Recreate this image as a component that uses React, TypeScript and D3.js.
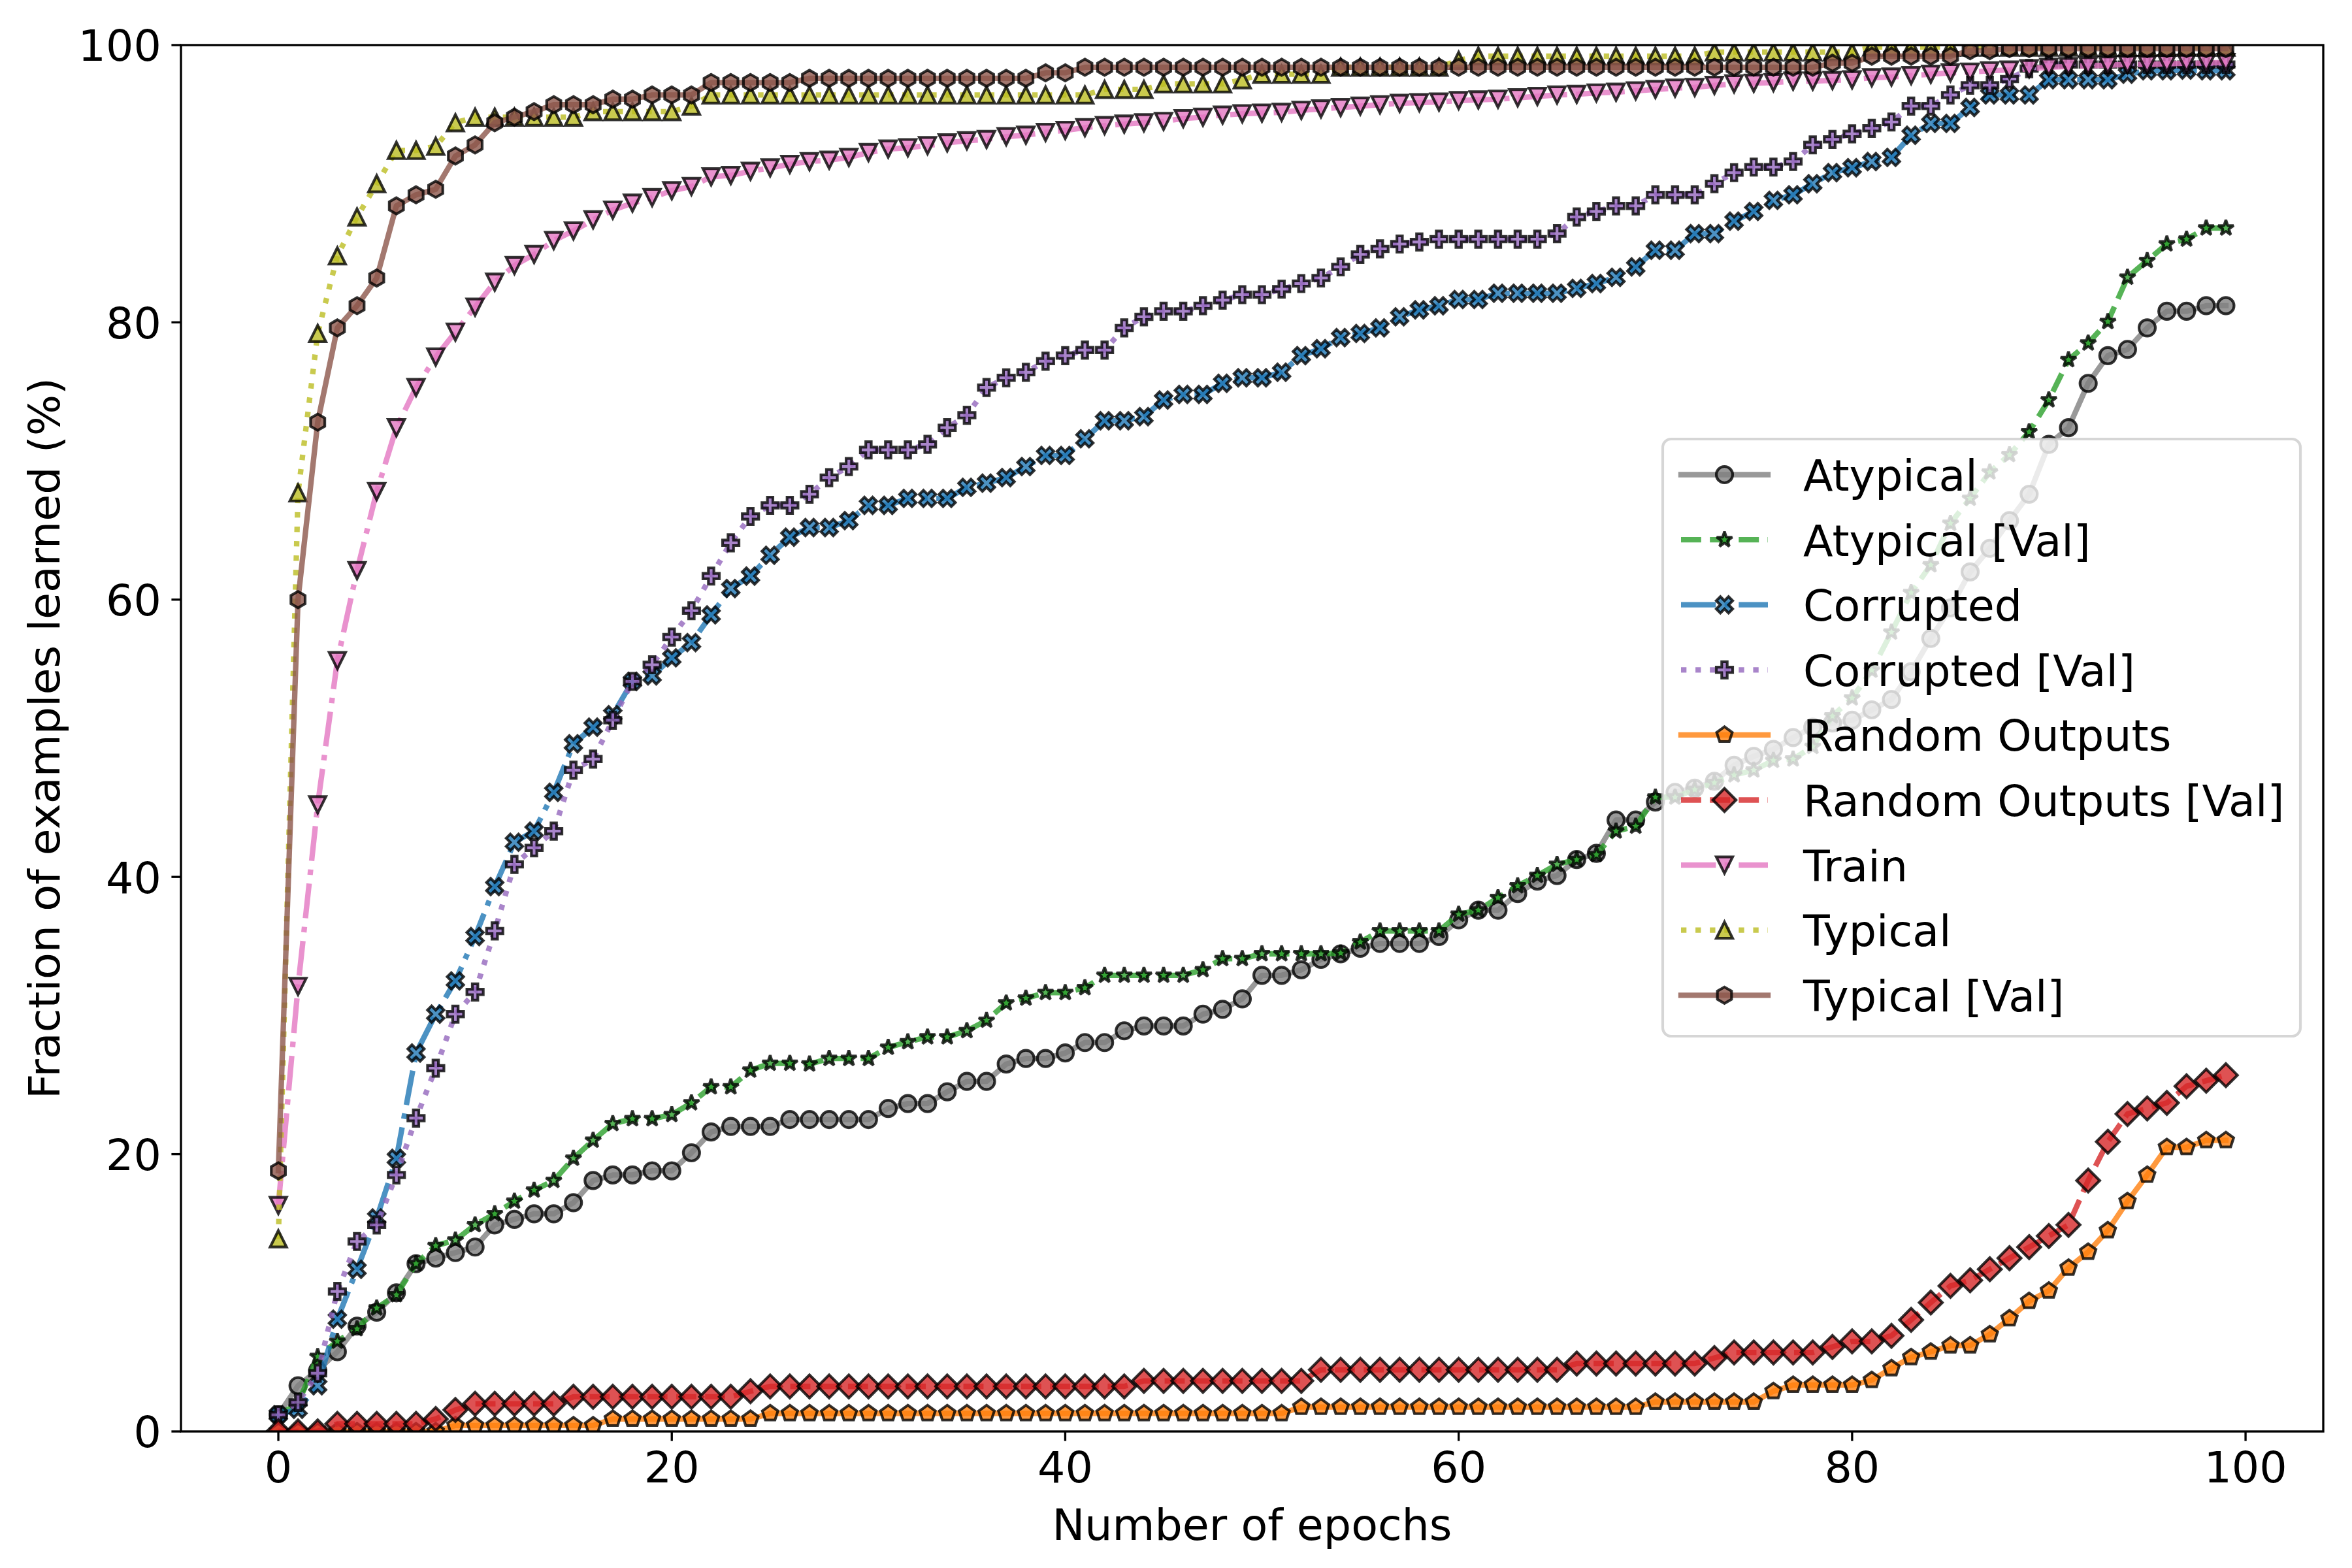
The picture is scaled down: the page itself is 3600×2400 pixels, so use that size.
import React from "react";
import * as d3 from "d3";

// Fraction of examples learned (%) per epoch (index = epoch 0..99)
const atypical = [
  1.2, 3.3, 4.4, 5.75, 7.6, 8.6, 10.0, 12.1, 12.5, 12.9,
  13.3, 14.9, 15.3, 15.7, 15.7, 16.5, 18.1, 18.5, 18.5, 18.8,
  18.8, 20.1, 21.6, 22.0, 22.0, 22.0, 22.5, 22.5, 22.5, 22.5,
  22.5, 23.3, 23.65, 23.65, 24.5, 25.25, 25.25, 26.5, 26.9, 26.9,
  27.3, 28.05, 28.05, 28.9, 29.25, 29.25, 29.25, 30.1, 30.45, 31.2,
  32.9, 32.9, 33.3, 34.05, 34.45, 34.85, 35.2, 35.2, 35.2, 35.7,
  36.9, 37.6, 37.6, 38.8, 39.7, 40.1, 41.25, 41.7, 44.1, 44.1,
  45.4, 46.1, 46.4, 46.9, 48.05, 48.7, 49.2, 50.05, 50.8, 51.1,
  51.3, 52.05, 52.8, 54.8, 57.2, 59.4, 62.0, 63.7, 65.7, 67.6,
  71.2, 72.4, 75.6, 77.6, 78.05, 79.6, 80.8, 80.8, 81.2, 81.2,
];

const atypicalVal = [
  1.2, 2.0, 5.4, 6.5, 7.4, 8.9, 9.85, 12.1, 13.4, 13.8,
  14.9, 15.7, 16.6, 17.4, 18.1, 19.7, 21.0, 22.2, 22.55, 22.55,
  22.85, 23.7, 24.85, 24.85, 26.05, 26.55, 26.55, 26.5, 26.9, 26.9,
  26.9, 27.7, 28.1, 28.45, 28.45, 28.9, 29.65, 30.9, 31.25, 31.65,
  31.65, 32.0, 32.9, 32.9, 32.9, 32.9, 32.9, 33.3, 34.1, 34.1,
  34.45, 34.45, 34.45, 34.45, 34.5, 35.3, 36.1, 36.1, 36.1, 36.1,
  37.3, 37.6, 38.5, 39.35, 40.1, 40.9, 41.25, 41.6, 43.3, 43.65,
  45.75, 45.75, 46.3, 46.8, 47.35, 47.7, 48.4, 48.5, 49.4, 51.6,
  52.9, 54.9, 57.65, 60.5, 62.5, 65.5, 67.3, 69.2, 70.45, 72.1,
  74.4, 77.3, 78.5, 80.05, 83.25, 84.45, 85.65, 86.0, 86.8, 86.8,
];

const corrupted = [
  1.2, 1.6, 3.3, 8.1, 11.7, 15.4, 19.7, 27.3, 30.1, 32.5,
  35.7, 39.3, 42.5, 43.3, 46.1, 49.6, 50.8, 51.7, 54.1, 54.5,
  55.8, 56.9, 58.9, 60.8, 61.7, 63.2, 64.5, 65.2, 65.2, 65.7,
  66.8, 66.8, 67.3, 67.3, 67.3, 68.1, 68.4, 68.8, 69.6, 70.4,
  70.4, 71.6, 72.9, 72.9, 73.2, 74.4, 74.8, 74.8, 75.6, 76.0,
  76.0, 76.4, 77.6, 78.1, 78.9, 79.2, 79.6, 80.4, 80.9, 81.2,
  81.65, 81.65, 82.1, 82.1, 82.1, 82.1, 82.45, 82.8, 83.25, 84.0,
  85.2, 85.2, 86.4, 86.4, 87.3, 88.0, 88.8, 89.2, 90.0, 90.8,
  91.15, 91.6, 91.9, 93.5, 94.35, 94.35, 95.5, 96.4, 96.4, 96.4,
  97.5, 97.5, 97.5, 97.5, 97.9, 98.15, 98.15, 98.2, 98.15, 98.15,
];

const corruptedVal = [
  1.2, 2.1, 4.2, 10.1, 13.7, 14.9, 18.5, 22.6, 26.2, 30.1,
  31.7, 36.1, 40.9, 42.1, 43.3, 47.7, 48.5, 51.3, 54.1, 55.3,
  57.3, 59.2, 61.7, 64.1, 66.0, 66.8, 66.8, 67.6, 68.8, 69.6,
  70.8, 70.8, 70.8, 71.2, 72.4, 73.3, 75.3, 76.0, 76.4, 77.2,
  77.6, 78.0, 78.0, 79.6, 80.4, 80.8, 80.8, 81.2, 81.6, 82.0,
  82.0, 82.4, 82.8, 83.2, 84.0, 84.9, 85.3, 85.65, 85.8, 86.0,
  86.0, 86.0, 86.0, 86.0, 86.0, 86.4, 87.6, 88.0, 88.4, 88.4,
  89.2, 89.2, 89.2, 90.0, 90.8, 91.2, 91.2, 91.6, 92.8, 93.2,
  93.6, 94.0, 94.45, 95.6, 95.6, 96.4, 97.1, 97.1, 97.55, 98.3,
  98.6, 98.6, 98.6, 98.6, 98.6, 98.6, 98.6, 98.6, 98.6, 98.6,
];

const randomOutputs = [
  0, 0, 0, 0, 0, 0, 0, 0, 0, 0.43,
  0.43, 0.43, 0.43, 0.43, 0.43, 0.43, 0.43, 0.9, 0.9, 0.9,
  0.9, 0.9, 0.9, 0.9, 0.9, 1.3, 1.3, 1.3, 1.3, 1.3,
  1.3, 1.3, 1.3, 1.3, 1.3, 1.3, 1.3, 1.3, 1.3, 1.3,
  1.3, 1.3, 1.3, 1.3, 1.3, 1.3, 1.3, 1.3, 1.3, 1.3,
  1.3, 1.3, 1.76, 1.76, 1.76, 1.76, 1.76, 1.76, 1.76, 1.76,
  1.76, 1.76, 1.76, 1.76, 1.76, 1.76, 1.76, 1.76, 1.76, 1.76,
  2.13, 2.13, 2.13, 2.13, 2.13, 2.13, 2.9, 3.35, 3.35, 3.35,
  3.35, 3.7, 4.55, 5.35, 5.75, 6.2, 6.2, 7.0, 8.15, 9.4,
  10.15, 11.8, 12.95, 14.5, 16.6, 18.5, 20.5, 20.5, 21.0, 21.0,
];

const randomOutputsVal = [
  0, 0, 0, 0.55, 0.55, 0.55, 0.55, 0.55, 0.9, 1.55,
  2.0, 2.0, 2.0, 2.0, 2.0, 2.5, 2.5, 2.5, 2.5, 2.5,
  2.5, 2.5, 2.5, 2.5, 2.9, 3.25, 3.25, 3.25, 3.25, 3.25,
  3.25, 3.25, 3.25, 3.25, 3.25, 3.25, 3.25, 3.25, 3.25, 3.25,
  3.25, 3.25, 3.25, 3.25, 3.65, 3.65, 3.65, 3.65, 3.65, 3.65,
  3.65, 3.65, 3.65, 4.45, 4.45, 4.45, 4.45, 4.45, 4.45, 4.45,
  4.45, 4.45, 4.45, 4.45, 4.45, 4.45, 4.9, 4.9, 4.9, 4.9,
  4.9, 4.9, 4.9, 5.3, 5.7, 5.7, 5.7, 5.7, 5.7, 6.1,
  6.5, 6.5, 6.9, 8.05, 9.3, 10.5, 10.9, 11.7, 12.5, 13.3,
  14.1, 14.9, 18.1, 20.9, 22.9, 23.3, 23.7, 24.9, 25.3, 25.7,
];

const train = [
  16.3, 32.1, 45.2, 55.6, 62.1, 67.8, 72.4, 75.3, 77.5, 79.3,
  81.1, 82.9, 84.1, 84.9, 85.9, 86.6, 87.4, 88.1, 88.6, 89.0,
  89.5, 89.8, 90.5, 90.6, 90.9, 91.15, 91.4, 91.6, 91.7, 91.9,
  92.25, 92.5, 92.6, 92.75, 92.95, 93.1, 93.2, 93.4, 93.5, 93.7,
  93.85, 94.05, 94.2, 94.3, 94.4, 94.5, 94.7, 94.8, 94.95, 95.05,
  95.1, 95.15, 95.3, 95.4, 95.5, 95.6, 95.7, 95.8, 95.85, 95.9,
  96.0, 96.05, 96.1, 96.2, 96.3, 96.4, 96.45, 96.55, 96.6, 96.7,
  96.8, 96.9, 96.95, 97.1, 97.2, 97.25, 97.3, 97.4, 97.4, 97.45,
  97.5, 97.65, 97.7, 97.8, 97.9, 98.0, 98.05, 98.15, 98.2, 98.3,
  98.4, 98.45, 98.5, 98.55, 98.6, 98.6, 98.65, 98.7, 98.7, 98.75,
];

const typical = [
  13.9, 67.7, 79.2, 84.8, 87.6, 90.0, 92.4, 92.4, 92.7, 94.4,
  94.8, 94.8, 94.8, 94.8, 94.8, 94.8, 95.2, 95.2, 95.2, 95.2,
  95.2, 95.6, 96.4, 96.4, 96.4, 96.4, 96.4, 96.4, 96.4, 96.4,
  96.4, 96.4, 96.4, 96.4, 96.4, 96.4, 96.4, 96.4, 96.4, 96.4,
  96.4, 96.4, 96.8, 96.8, 96.8, 97.2, 97.2, 97.2, 97.2, 97.5,
  97.9, 97.9, 97.9, 97.9, 98.4, 98.4, 98.4, 98.4, 98.4, 98.4,
  98.9, 99.2, 99.2, 99.2, 99.2, 99.2, 99.2, 99.2, 99.2, 99.2,
  99.2, 99.2, 99.2, 99.5, 99.5, 99.5, 99.5, 99.5, 99.5, 99.5,
  99.5, 99.85, 99.85, 99.85, 99.85, 99.85, 99.85, 99.85, 99.85, 99.85,
  99.85, 99.85, 99.85, 99.85, 99.85, 99.85, 99.85, 99.85, 99.85, 99.85,
];

const typicalVal = [
  18.8, 60.0, 72.8, 79.6, 81.2, 83.2, 88.4, 89.2, 89.6, 92.0,
  92.8, 94.4, 94.8, 95.2, 95.7, 95.7, 95.7, 96.1, 96.1, 96.4,
  96.4, 96.4, 97.3, 97.3, 97.3, 97.3, 97.3, 97.6, 97.6, 97.6,
  97.6, 97.6, 97.6, 97.6, 97.6, 97.6, 97.6, 97.6, 97.6, 98.0,
  98.0, 98.4, 98.4, 98.4, 98.4, 98.4, 98.4, 98.4, 98.4, 98.4,
  98.4, 98.4, 98.4, 98.4, 98.4, 98.4, 98.4, 98.4, 98.4, 98.4,
  98.4, 98.4, 98.4, 98.4, 98.4, 98.4, 98.4, 98.4, 98.4, 98.4,
  98.4, 98.4, 98.4, 98.4, 98.4, 98.4, 98.4, 98.4, 98.4, 98.7,
  98.7, 99.2, 99.2, 99.2, 99.2, 99.2, 99.6, 99.6, 99.75, 99.75,
  99.75, 99.75, 99.75, 99.75, 99.75, 99.75, 99.75, 99.75, 99.75, 99.75,
];

const xTicks = [0, 20, 40, 60, 80, 100];
const yTicks = [0, 20, 40, 60, 80, 100];

type MarkerKind = "o" | "*" | "X" | "P" | "p" | "D" | "v" | "^" | "h";

const series: {
  name: string;
  values: number[];
  color: string;
  dash: string;
  marker: MarkerKind;
}[] = [
  { name: "Atypical", values: atypical, color: "#7f7f7f", dash: "solid", marker: "o" },
  { name: "Atypical [Val]", values: atypicalVal, color: "#2ca02c", dash: "dashed", marker: "*" },
  { name: "Corrupted", values: corrupted, color: "#1f77b4", dash: "dashdot", marker: "X" },
  { name: "Corrupted [Val]", values: corruptedVal, color: "#9467bd", dash: "dotted", marker: "P" },
  { name: "Random Outputs", values: randomOutputs, color: "#ff7f0e", dash: "solid", marker: "p" },
  { name: "Random Outputs [Val]", values: randomOutputsVal, color: "#d62728", dash: "dashed", marker: "D" },
  { name: "Train", values: train, color: "#e377c2", dash: "dashdot", marker: "v" },
  { name: "Typical", values: typical, color: "#bcbd22", dash: "dotted", marker: "^" },
  { name: "Typical [Val]", values: typicalVal, color: "#8c564b", dash: "solid", marker: "h" },
];

// figure geometry (px at 300 dpi)
const W = 3600;
const H = 2400;
const PT = 300 / 72;
const LW = 2 * PT;
const MS = 6 * PT;
const MEW = 1 * PT;
const FS = 16 * PT;
const AX = { left: 277, right: 3556, top: 69, bottom: 2191 };

const dashArray: Record<string, string | undefined> = {
  solid: undefined,
  dashed: `${3.7 * LW},${1.6 * LW}`,
  dashdot: `${6.4 * LW},${1.6 * LW},${1 * LW},${1.6 * LW}`,
  dotted: `${1 * LW},${1.65 * LW}`,
};

function poly(pts: [number, number][]) {
  return "M" + pts.map((p) => `${p[0].toFixed(2)},${p[1].toFixed(2)}`).join("L") + "Z";
}

function regular(n: number, r: number) {
  const pts: [number, number][] = [];
  for (let k = 0; k < n; k++) {
    const a = Math.PI / 2 + (2 * Math.PI * k) / n;
    pts.push([r * Math.cos(a), -r * Math.sin(a)]);
  }
  return poly(pts);
}

function markerPath(kind: MarkerKind, s: number) {
  const h = s / 2;
  switch (kind) {
    case "o":
      return `M${h},0A${h},${h} 0 1,1 ${-h},0A${h},${h} 0 1,1 ${h},0Z`;
    case "*": {
      const pts: [number, number][] = [];
      for (let k = 0; k < 10; k++) {
        const a = Math.PI / 2 + (Math.PI * k) / 5;
        const r = k % 2 === 0 ? h : h * 0.381966;
        pts.push([r * Math.cos(a), -r * Math.sin(a)]);
      }
      return poly(pts);
    }
    case "X": {
      const raw = [[-1, -2], [0, -1], [1, -2], [2, -1], [1, 0], [2, 1], [1, 2], [0, 1], [-1, 2], [-2, 1], [-1, 0], [-2, -1]];
      return poly(raw.map((p) => [(p[0] * s) / 4, (p[1] * s) / 4]));
    }
    case "P": {
      const raw = [[-1, -3], [1, -3], [1, -1], [3, -1], [3, 1], [1, 1], [1, 3], [-1, 3], [-1, 1], [-3, 1], [-3, -1], [-1, -1]];
      return poly(raw.map((p) => [(p[0] * s) / 6, (p[1] * s) / 6]));
    }
    case "p":
      return regular(5, h);
    case "h":
      return regular(6, h);
    case "D": {
      const d = s * Math.SQRT1_2;
      return poly([[0, -d], [d, 0], [0, d], [-d, 0]]);
    }
    case "v":
      return poly([[0, h], [-h, -h], [h, -h]]);
    case "^":
      return poly([[0, -h], [-h, h], [h, h]]);
  }
}

const joinFor = (k: MarkerKind) => (k === "o" ? "round" : k === "*" ? "bevel" : "miter");

export default function App() {
  const x = d3.scaleLinear().domain([-4.95, 103.95]).range([AX.left, AX.right]);
  const y = d3.scaleLinear().domain([0, 100]).range([AX.bottom, AX.top]);

  const line = d3
    .line<number>()
    .x((_, i) => x(i))
    .y((d) => y(d));

  const font = "DejaVu Sans";

  // legend layout
  const lg = { x: 2545, y: 672, w: 976, h: 914 };
  const rowBase = (k: number) => 751 + 99.6 * k;

  return (
    <div style={{ position: "absolute", left: 0, top: 0 }}>
      <svg width={W} height={H} viewBox={`0 0 ${W} ${H}`} style={{ display: "block", background: "#fff" }}>
        <defs>
          <clipPath id="axclip">
            <rect x={AX.left} y={AX.top} width={AX.right - AX.left} height={AX.bottom - AX.top} />
          </clipPath>
        </defs>
        <rect x={0} y={0} width={W} height={H} fill="#fff" />

        <g clipPath="url(#axclip)">
          {series.map((s) => {
            const mp = markerPath(s.marker, MS);
            return (
              <g key={s.name}>
                <path
                  d={line(s.values) || ""}
                  fill="none"
                  stroke={s.color}
                  strokeOpacity={0.8}
                  strokeWidth={LW}
                  strokeDasharray={dashArray[s.dash]}
                  strokeLinejoin="round"
                  strokeLinecap={s.dash === "solid" ? "square" : "butt"}
                />
                {s.values.map((v, i) => (
                  <path
                    key={i}
                    d={mp}
                    transform={`translate(${x(i)},${y(v)})`}
                    fill={s.color}
                    fillOpacity={0.8}
                    stroke="#000"
                    strokeOpacity={0.8}
                    strokeWidth={MEW}
                    strokeLinejoin={joinFor(s.marker)}
                  />
                ))}
              </g>
            );
          })}
        </g>

        {/* spines */}
        <rect
          x={AX.left}
          y={AX.top}
          width={AX.right - AX.left}
          height={AX.bottom - AX.top}
          fill="none"
          stroke="#000"
          strokeWidth={0.8 * PT}
          strokeLinejoin="miter"
        />

        {/* x ticks */}
        {xTicks.map((t) => (
          <g key={`x${t}`}>
            <line x1={x(t)} x2={x(t)} y1={AX.bottom} y2={AX.bottom + 3.5 * PT} stroke="#000" strokeWidth={0.8 * PT} />
            <text x={x(t)} y={2269} textAnchor="middle" fontFamily={font} fontSize={FS} fill="#000">
              {t}
            </text>
          </g>
        ))}

        {/* y ticks */}
        {yTicks.map((t) => (
          <g key={`y${t}`}>
            <line x1={AX.left - 3.5 * PT} x2={AX.left} y1={y(t)} y2={y(t)} stroke="#000" strokeWidth={0.8 * PT} />
            <text x={AX.left - 7 * PT - 1} y={y(t) + 24.3} textAnchor="end" fontFamily={font} fontSize={FS} fill="#000">
              {t}
            </text>
          </g>
        ))}

        <text x={(AX.left + AX.right) / 2} y={2357} textAnchor="middle" fontFamily={font} fontSize={FS} fill="#000">
          Number of epochs
        </text>
        <text
          transform={`translate(91,${(AX.top + AX.bottom) / 2}) rotate(-90)`}
          textAnchor="middle"
          fontFamily={font}
          fontSize={FS}
          fill="#000"
        >
          Fraction of examples learned (%)
        </text>

        {/* legend */}
        <g>
          <rect
            x={lg.x}
            y={lg.y}
            width={lg.w}
            height={lg.h}
            rx={13}
            ry={13}
            fill="#fff"
            fillOpacity={0.8}
            stroke="#cccccc"
            strokeOpacity={0.8}
            strokeWidth={1 * PT}
          />
          {series.map((s, k) => {
            const cy = rowBase(k) - 24.5;
            return (
              <g key={`lg${s.name}`}>
                <line
                  x1={2573}
                  x2={2706}
                  y1={cy}
                  y2={cy}
                  stroke={s.color}
                  strokeOpacity={0.8}
                  strokeWidth={LW}
                  strokeDasharray={dashArray[s.dash]}
                  strokeLinecap={s.dash === "solid" ? "square" : "butt"}
                />
                <path
                  d={markerPath(s.marker, MS)}
                  transform={`translate(2639.5,${cy})`}
                  fill={s.color}
                  fillOpacity={0.8}
                  stroke="#000"
                  strokeOpacity={0.8}
                  strokeWidth={MEW}
                  strokeLinejoin={joinFor(s.marker)}
                />
                <text x={2760} y={rowBase(k)} fontFamily={font} fontSize={FS} fill="#000">
                  {s.name}
                </text>
              </g>
            );
          })}
        </g>
      </svg>
    </div>
  );
}
